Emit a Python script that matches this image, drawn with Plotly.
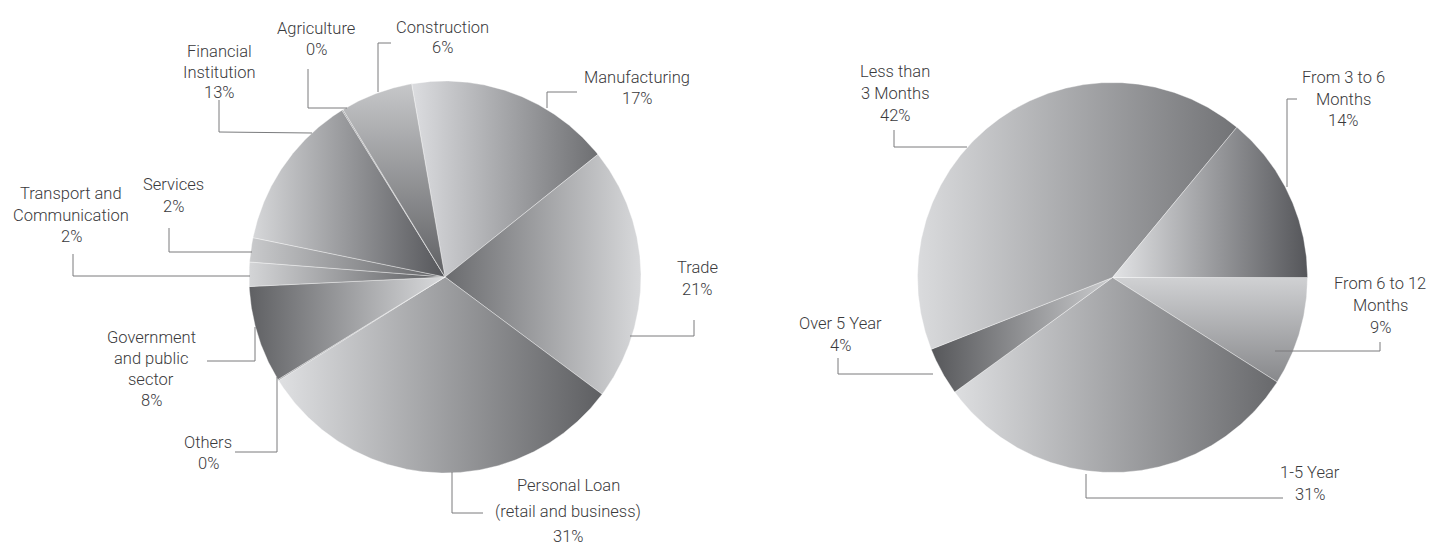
import numpy as np
import plotly.graph_objects as go

# ---- data -----------------------------------------------------------------
# Loans by economic sector, listed clockwise from the top of the left pie
sector_names = ["Manufacturing", "Trade", "Personal Loan\n(retail and business)", "Others",
                "Government\nand public\nsector", "Transport and\nCommunication", "Services",
                "Financial\nInstitution", "Agriculture", "Construction"]
sector_values = [17, 21, 31, 0.1, 8, 2, 2, 13, 0.1, 6]

# Loans by maturity, listed clockwise from 3 o'clock on the right pie
maturity_names = ["From 6 to 12\nMonths", "1-5 Year", "Over 5 Year",
                  "Less than\n3 Months", "From 3 to 6\nMonths"]
maturity_values = [9, 31, 4, 42, 14]

# ---- styling / layout -------------------------------------------------------
W, H = 1431, 545
FONT = "Roboto, sans-serif"
FONT_SIZE = 16.5
TEXT_COLOR = "#3a3a3c"
LEADER_COLOR = "#7a7b7d"

left_pie = dict(cx=445, cy=277, r=196, start=-9.8)
right_pie = dict(cx=1112.5, cy=277.5, r=195, start=90)

# per-slice fill gradient: (orientation, colour at left/top, colour at right/bottom)
sector_fills = [
    ("h", "#dcdde0", "#6e6f72"),
    ("h", "#6a6b6e", "#d8d9db"),
    ("h", "#dfe0e2", "#5e5f62"),
    ("h", "#9a9b9e", "#9a9b9e"),
    ("h", "#5f6063", "#dadbdd"),
    ("h", "#d4d5d7", "#5a5b5e"),
    ("h", "#c9cacc", "#616265"),
    ("h", "#d6d7d9", "#55565a"),
    ("h", "#9a9b9e", "#9a9b9e"),
    ("v", "#c6c7c9", "#5f6063"),
]
maturity_fills = [
    ("v", "#d0d1d3", "#87888b"),
    ("h", "#dddee0", "#68696c"),
    ("h", "#56575a", "#cbccce"),
    ("h", "#dadbdd", "#727376"),
    ("h", "#e3e4e6", "#55565a"),
]

# label block centres (px) and line pitch
sector_label_pos = [(637, 88, 21), (697, 278, 22), (568, 511, 25.5), (208, 453, 21),
                    (151, 369, 21.3), (71, 215, 21.5), (173, 195, 22), (219, 72, 20.5),
                    (316, 39, 21), (442, 37, 20)]
maturity_label_pos = [(1380, 305, 22), (1310, 483, 22), (840, 334, 22),
                      (895, 93, 22), (1343, 99, 21.5)]

# elbow leader lines (px)
sector_leaders = [
    [(577, 92), (547, 92), (547, 108)],
    [(694, 320), (694, 336), (630, 336)],
    [(483, 513), (452, 513), (452, 472)],
    [(235, 452), (277, 452), (277, 377)],
    [(207, 361), (255, 361), (255, 327)],
    [(73, 254), (73, 276), (250, 276)],
    [(169, 228), (169, 252), (252, 252)],
    [(219, 100), (219, 132), (312, 133)],
    [(308, 69), (308, 108), (347, 108)],
    [(391, 43), (378, 43), (378, 92)],
]
maturity_leaders = [
    [(1380, 342), (1380, 351), (1275, 351)],
    [(1283, 498), (1086, 498), (1086, 474)],
    [(838, 358), (838, 374), (933, 374)],
    [(894, 130), (894, 147), (967, 147)],
    [(1297, 99), (1287, 99), (1287, 187)],
]

fig = go.Figure()


def add_pie(names, values, fills, geo):
    total = float(sum(values))
    angle = geo["start"]
    for name, v, (orient, c0, c1) in zip(names, values, fills):
        span = v / total * 360.0
        a = np.radians(np.linspace(angle, angle + span, max(2, int(span / 0.4) + 2)))
        xs = np.concatenate([[geo["cx"]], geo["cx"] + geo["r"] * np.sin(a), [geo["cx"]]])
        ys = np.concatenate([[geo["cy"]], geo["cy"] - geo["r"] * np.cos(a), [geo["cy"]]])
        if orient == "h":
            g = dict(type="horizontal", start=float(xs.min()), stop=float(xs.max()))
        else:
            g = dict(type="vertical", start=float(ys.min()), stop=float(ys.max()))
        g["colorscale"] = [[0, c0], [1, c1]]
        fig.add_trace(go.Scatter(
            x=xs, y=ys, mode="lines", fill="toself", fillgradient=g,
            line=dict(color="rgba(255,255,255,0.6)", width=0.6),
            hoverinfo="text", text=name.replace("\n", " "), showlegend=False,
        ))
        angle += span


def add_labels(names, values, positions, leaders):
    total = float(sum(values))
    for name, v, (x, y, pitch), pts in zip(names, values, positions, leaders):
        lines = name.split("\n") + [f"{round(v / total * 100)}%"]
        n = len(lines)
        for i, line in enumerate(lines):
            fig.add_annotation(
                x=x, y=y + (i - (n - 1) / 2) * pitch, text=line, showarrow=False,
                xref="x", yref="y", xanchor="center", yanchor="middle",
                font=dict(family=FONT, size=FONT_SIZE, color=TEXT_COLOR, weight=300),
            )
        fig.add_trace(go.Scatter(
            x=[p[0] for p in pts], y=[p[1] for p in pts], mode="lines",
            line=dict(color=LEADER_COLOR, width=1), hoverinfo="skip", showlegend=False,
        ))


add_pie(sector_names, sector_values, sector_fills, left_pie)
add_pie(maturity_names, maturity_values, maturity_fills, right_pie)
add_labels(sector_names, sector_values, sector_label_pos, sector_leaders)
add_labels(maturity_names, maturity_values, maturity_label_pos, maturity_leaders)

fig.update_layout(
    width=W, height=H,
    margin=dict(l=0, r=0, t=0, b=0),
    paper_bgcolor="white", plot_bgcolor="white",
    xaxis=dict(range=[0, W], visible=False, fixedrange=True),
    yaxis=dict(range=[H, 0], visible=False, fixedrange=True),
)

fig.write_html("out.html")
